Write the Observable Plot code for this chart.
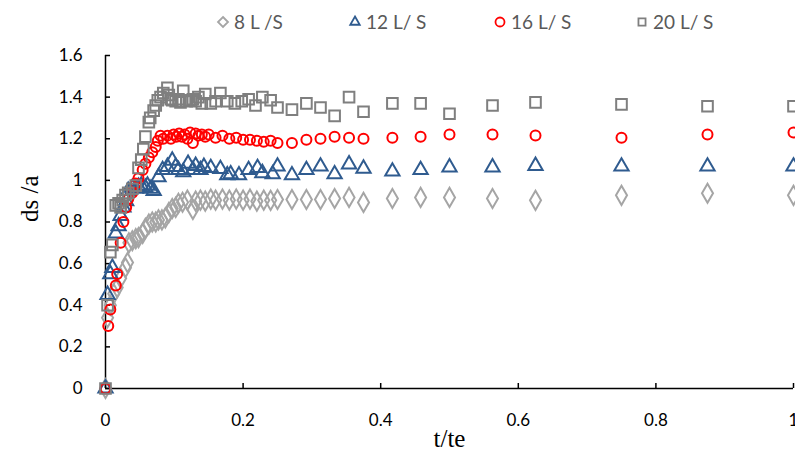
<!DOCTYPE html>
<html>
<head>
<meta charset="utf-8">
<script src="https://cdn.jsdelivr.net/npm/d3@7"></script>
<script src="https://cdn.jsdelivr.net/npm/@observablehq/plot@0.6"></script>
<style>
  html, body { margin: 0; padding: 0; background: #fff; }
  #wrap { position: relative; width: 795px; height: 457px; overflow: hidden; }
  #legend { position: relative; height: 42px; width: 795px; font-family: Lato, "Open Sans", sans-serif; font-size: 19px; color: #595959; }
  .item { position: absolute; top: 10px; display: flex; align-items: center; white-space: pre; }
  .item svg { margin-right: 3px; }
  .serif { font-family: "Liberation Serif", "DejaVu Serif", serif !important; }
</style>
</head>
<body>
<div id="wrap">
  <div id="legend"></div>
  <div id="chart"></div>
</div>
<script>
// ---- data ----
const seriesNames = ["8 L /S", "12 L/ S", "16 L/ S", "20 L/ S"];

const t8 = [0, 0.003, 0.007, 0.012, 0.017, 0.022, 0.029, 0.032, 0.034, 0.039, 0.044, 0.048, 0.054, 0.058, 0.063, 0.068, 0.073, 0.077, 0.082, 0.087, 0.092, 0.097, 0.102, 0.106, 0.112, 0.119, 0.127, 0.131, 0.138, 0.145, 0.153, 0.160, 0.170, 0.180, 0.190, 0.200, 0.210, 0.220, 0.230, 0.240,
  0.25, 0.271, 0.292, 0.3125, 0.333, 0.354, 0.375, 0.417, 0.458, 0.5, 0.5625, 0.625, 0.75, 0.875, 1.0];
const v8 = [0, 0.34, 0.40, 0.455, 0.485, 0.53, 0.58, 0.605, 0.70, 0.71, 0.72, 0.725, 0.745, 0.77, 0.79, 0.80, 0.80, 0.81, 0.81, 0.82, 0.845, 0.865, 0.87, 0.89, 0.895, 0.905, 0.86, 0.90, 0.905, 0.90, 0.91, 0.905, 0.91, 0.905, 0.91, 0.905, 0.91, 0.90, 0.905, 0.904,
  0.908, 0.908, 0.908, 0.908, 0.913, 0.918, 0.894, 0.913, 0.918, 0.918, 0.913, 0.904, 0.928, 0.938, 0.928];

const t12 = [0, 0.003, 0.007, 0.010, 0.015, 0.019, 0.022, 0.026, 0.030, 0.033, 0.039, 0.044, 0.048, 0.052, 0.058, 0.061, 0.066, 0.070, 0.077, 0.083, 0.090, 0.097, 0.102, 0.106, 0.113, 0.120, 0.127, 0.131, 0.138, 0.143, 0.153, 0.167, 0.177, 0.182, 0.194, 0.208, 0.221, 0.228, 0.243,
  0.25, 0.271, 0.292, 0.3125, 0.333, 0.354, 0.375, 0.417, 0.458, 0.5, 0.5625, 0.625, 0.75, 0.875, 1.0];
const v12 = [0, 0.45, 0.55, 0.58, 0.745, 0.78, 0.83, 0.87, 0.90, 0.95, 0.965, 0.96, 0.97, 0.975, 0.965, 0.975, 0.96, 0.95, 1.015, 1.05, 1.065, 1.095, 1.065, 1.05, 1.04, 1.08, 1.05, 1.07, 1.05, 1.065, 1.06, 1.055, 1.025, 1.03, 1.025, 1.05, 1.06, 1.035, 1.03,
  1.067, 1.025, 1.05, 1.067, 1.03, 1.077, 1.057, 1.043, 1.05, 1.063, 1.063, 1.07, 1.067, 1.067, 1.067];

const t16 = [0, 0.004, 0.007, 0.015, 0.017, 0.022, 0.026, 0.030, 0.033, 0.039, 0.044, 0.048, 0.054, 0.058, 0.063, 0.068, 0.073, 0.076, 0.080, 0.084, 0.090, 0.095, 0.099, 0.103, 0.107, 0.111, 0.115, 0.119, 0.123, 0.127, 0.131, 0.135, 0.140, 0.145, 0.150, 0.160, 0.170, 0.180, 0.190, 0.200, 0.210, 0.220, 0.230, 0.240,
  0.25, 0.271, 0.292, 0.3125, 0.333, 0.354, 0.375, 0.417, 0.458, 0.5, 0.5625, 0.625, 0.75, 0.875, 1.0];
const v16 = [0, 0.30, 0.38, 0.495, 0.55, 0.70, 0.80, 0.87, 0.91, 0.94, 0.985, 1.01, 1.05, 1.08, 1.11, 1.135, 1.16, 1.19, 1.215, 1.20, 1.215, 1.20, 1.22, 1.21, 1.225, 1.21, 1.22, 1.20, 1.23, 1.18, 1.225, 1.215, 1.22, 1.21, 1.22, 1.205, 1.215, 1.20, 1.205, 1.195, 1.195, 1.19, 1.185, 1.19,
  1.18, 1.18, 1.195, 1.20, 1.21, 1.205, 1.20, 1.205, 1.21, 1.22, 1.22, 1.216, 1.205, 1.22, 1.23];

const t20 = [0, 0.003, 0.007, 0.010, 0.015, 0.019, 0.022, 0.025, 0.029, 0.033, 0.039, 0.044, 0.048, 0.052, 0.055, 0.058, 0.063, 0.065, 0.070, 0.073, 0.076, 0.080, 0.084, 0.090, 0.092, 0.095, 0.097, 0.102, 0.106, 0.109, 0.113, 0.118, 0.122, 0.127, 0.131, 0.135, 0.140, 0.145, 0.153, 0.160, 0.167, 0.177, 0.188, 0.198, 0.208, 0.218, 0.228, 0.240,
  0.25, 0.271, 0.292, 0.3125, 0.333, 0.354, 0.375, 0.417, 0.458, 0.5, 0.5625, 0.625, 0.75, 0.875, 1.0];
const v20 = [0, 0.40, 0.655, 0.69, 0.88, 0.89, 0.87, 0.905, 0.93, 0.94, 0.96, 0.975, 1.06, 1.10, 1.15, 1.21, 1.28, 1.30, 1.335, 1.36, 1.385, 1.40, 1.42, 1.445, 1.41, 1.39, 1.385, 1.38, 1.39, 1.375, 1.43, 1.38, 1.385, 1.39, 1.38, 1.40, 1.37, 1.415, 1.37, 1.38, 1.42, 1.38, 1.37, 1.38, 1.39, 1.36, 1.40, 1.385,
  1.35, 1.34, 1.37, 1.35, 1.31, 1.40, 1.33, 1.37, 1.37, 1.32, 1.36, 1.375, 1.365, 1.356, 1.356];

const xTicks = [0, 0.2, 0.4, 0.6, 0.8, 1];
const yTicks = [0, 0.2, 0.4, 0.6, 0.8, 1, 1.2, 1.4, 1.6];
const xTitle = "t/te";
const yTitle = "ds /a";

// ---- styles ----
const styles = [
  {symbol: "diamond", stroke: "#a5a5a5", r: 5.8},
  {symbol: "triangle", stroke: "#2f5b8f", r: 5.3},
  {symbol: "circle", stroke: "#ff0000", r: 5},
  {symbol: "square", stroke: "#7f7f7f", r: 6}
];
const allT = [t8, t12, t16, t20];
const allV = [v8, v12, v16, v20];
const series = seriesNames.map((name, i) => ({
  name, ...styles[i],
  data: allT[i].map((t, j) => ({t, v: allV[i][j]}))
}));

// ---- legend ----
const legendX = [215, 347, 492, 634];
const legend = document.getElementById("legend");
series.forEach((s, i) => {
  const el = document.createElement("div");
  el.className = "item";
  el.style.left = legendX[i] + "px";
  const sym = d3.symbol({
    diamond: d3.symbolDiamond2, triangle: d3.symbolTriangle2,
    circle: d3.symbolCircle, square: d3.symbolSquare2
  }[s.symbol], 64)();
  el.innerHTML = `<svg width="16" height="16" viewBox="-8 -8 16 16"><path d="${sym}" fill="none" stroke="${s.stroke}" stroke-width="1.8"/></svg><span>${s.name}</span>`;
  legend.appendChild(el);
});

// ---- chart ----
const fmt = d3.format("~g");
const chart = Plot.plot({
  width: 795,
  height: 415,
  marginTop: 13,
  marginBottom: 69,
  marginLeft: 105,
  marginRight: 2,
  style: {fontFamily: "Lato, 'Open Sans', sans-serif", fontSize: "17px", color: "#000", background: "#fff", overflow: "visible"},
  x: {domain: [0, 1]},
  y: {domain: [0, 1.6]},
  marks: [
    Plot.axisX(xTicks, {tickSize: -5, tickPadding: 30, tickFormat: fmt, label: null, stroke: "#000", strokeWidth: 1.5}),
    Plot.axisY(yTicks, {tickSize: -5, tickPadding: 28, tickFormat: fmt, label: null, stroke: "#000", strokeWidth: 1.5}),
    Plot.ruleY([0], {stroke: "#000", strokeWidth: 1.5}),
    Plot.ruleX([0], {stroke: "#000", strokeWidth: 1.5}),
    ...series.map(s => Plot.dot(s.data, {x: "t", y: "v", symbol: () => s.symbol, r: s.r, stroke: s.stroke, strokeWidth: 2, fill: "none"})),
    Plot.text([xTitle], {frameAnchor: "bottom", dy: 58, fontSize: 25, fill: "#000", text: d => d}),
    Plot.text([yTitle], {frameAnchor: "left", dx: -76, rotate: -90, fontSize: 25, fill: "#000", text: d => d})
  ]
});
d3.select(chart).selectAll("text")
  .filter(function () { return this.textContent === xTitle || this.textContent === yTitle; })
  .classed("serif", true)
  .style("font-family", "'Liberation Serif', 'DejaVu Serif', serif");
document.getElementById("chart").appendChild(chart);
</script>
</body>
</html>
